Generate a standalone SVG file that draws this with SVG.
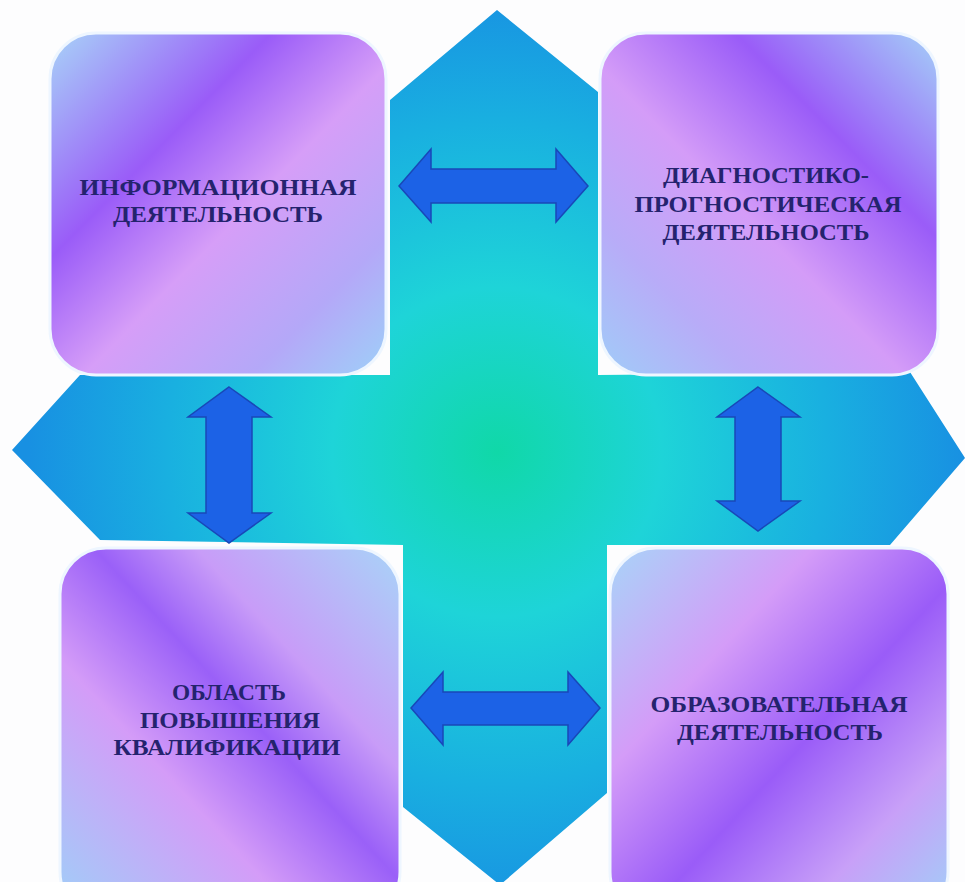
<svg xmlns="http://www.w3.org/2000/svg" width="965" height="882" viewBox="0 0 965 882">
<defs>
<radialGradient id="crossGrad" gradientUnits="userSpaceOnUse" cx="497" cy="452" r="470">
<stop offset="0" stop-color="#10d8a8"/>
<stop offset="0.35" stop-color="#1ed4d8"/>
<stop offset="0.7" stop-color="#19b0e0"/>
<stop offset="1" stop-color="#1890e2"/>
</radialGradient>
<linearGradient id="boxTL" x1="0" y1="0" x2="1" y2="1">
<stop offset="0" stop-color="#a8d4f8"/>
<stop offset="0.33" stop-color="#9a5cf8"/>
<stop offset="0.55" stop-color="#d69ef8"/>
<stop offset="0.8" stop-color="#b4a8f8"/>
<stop offset="1" stop-color="#9ed0f8"/>
</linearGradient>
<linearGradient id="boxTR" x1="1" y1="0" x2="0" y2="1">
<stop offset="0" stop-color="#a4d0f8"/>
<stop offset="0.3" stop-color="#9a5cf8"/>
<stop offset="0.55" stop-color="#d49cf8"/>
<stop offset="0.78" stop-color="#b8acf8"/>
<stop offset="1" stop-color="#a0ccf8"/>
</linearGradient>
<linearGradient id="boxBL" x1="1" y1="0" x2="0" y2="1">
<stop offset="0" stop-color="#a8d4f8"/>
<stop offset="0.3" stop-color="#c89cf8"/>
<stop offset="0.45" stop-color="#9a60f8"/>
<stop offset="0.65" stop-color="#d49cf8"/>
<stop offset="1" stop-color="#9ed0f8"/>
</linearGradient>
<linearGradient id="boxBR" x1="0" y1="0" x2="1" y2="1">
<stop offset="0" stop-color="#a8d4f8"/>
<stop offset="0.3" stop-color="#d49cf8"/>
<stop offset="0.55" stop-color="#9a5cf8"/>
<stop offset="0.78" stop-color="#c8a0f8"/>
<stop offset="1" stop-color="#a0d0f8"/>
</linearGradient>
<style>
.box { stroke: #eef6ff; stroke-width: 3; }
.lbl { font-family: "Liberation Serif", "DejaVu Serif", serif; font-weight: bold; font-size: 24px; fill: #24236e; text-anchor: middle; }
.arrow { fill: #1c62e6; stroke: #1848b8; stroke-width: 1.5; stroke-linejoin: miter; }
</style>
</defs>
<rect x="0" y="0" width="965" height="882" fill="#fdfdfe"/>
<g id="cross">
<polygon fill="url(#crossGrad)" points="497,10 598,92 598,375 910,372 965,458 890,545 607,545 607,793 500,885 403,807 403,545 100,540 12,450 80,375 390,375 390,100"/>
</g>
<g id="node-info">
<rect class="box" x="50" y="33" width="336" height="342" rx="46" fill="url(#boxTL)"/>
<text class="lbl"><tspan x="218" y="195" textLength="277" lengthAdjust="spacingAndGlyphs">ИНФОРМАЦИОННАЯ</tspan><tspan x="218" y="222" textLength="210" lengthAdjust="spacingAndGlyphs">ДЕЯТЕЛЬНОСТЬ</tspan></text>
</g>
<g id="node-diag">
<rect class="box" x="600" y="33" width="338" height="342" rx="46" fill="url(#boxTR)"/>
<text class="lbl"><tspan x="766" y="183" textLength="206" lengthAdjust="spacingAndGlyphs">ДИАГНОСТИКО-</tspan><tspan x="768" y="212" textLength="267" lengthAdjust="spacingAndGlyphs">ПРОГНОСТИЧЕСКАЯ</tspan><tspan x="766" y="240" textLength="207" lengthAdjust="spacingAndGlyphs">ДЕЯТЕЛЬНОСТЬ</tspan></text>
</g>
<g id="node-qual">
<rect class="box" x="60" y="548" width="340" height="370" rx="46" fill="url(#boxBL)"/>
<text class="lbl"><tspan x="229" y="700" textLength="114" lengthAdjust="spacingAndGlyphs">ОБЛАСТЬ</tspan><tspan x="230" y="728" textLength="180" lengthAdjust="spacingAndGlyphs">ПОВЫШЕНИЯ</tspan><tspan x="227" y="755" textLength="227" lengthAdjust="spacingAndGlyphs">КВАЛИФИКАЦИИ</tspan></text>
</g>
<g id="node-edu">
<rect class="box" x="610" y="548" width="338" height="370" rx="46" fill="url(#boxBR)"/>
<text class="lbl"><tspan x="779" y="712" textLength="257" lengthAdjust="spacingAndGlyphs">ОБРАЗОВАТЕЛЬНАЯ</tspan><tspan x="780" y="740" textLength="206" lengthAdjust="spacingAndGlyphs">ДЕЯТЕЛЬНОСТЬ</tspan></text>
</g>
<g id="connectors">
<polygon class="arrow" points="399,186 431,149 431,169 556,169 556,149 588,186 556,222 556,203 431,203 431,222"/>
<polygon class="arrow" points="411,708 443,672 443,692 568,692 568,672 600,708 568,745 568,725 443,725 443,745"/>
<polygon class="arrow" points="229,387 271,417 252,417 252,513 271,513 229,543 188,513 206,513 206,417 188,417"/>
<polygon class="arrow" points="758,387 800,417 781,417 781,501 800,501 758,531 717,501 735,501 735,417 717,417"/>
</g>
</svg>
